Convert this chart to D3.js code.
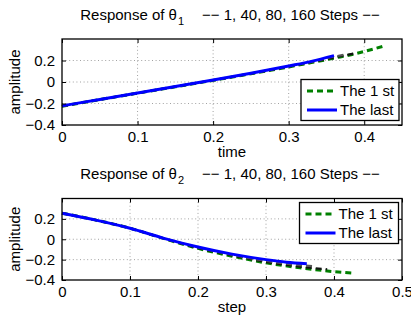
<!DOCTYPE html>
<html><head><meta charset="utf-8">
<script src="https://cdn.jsdelivr.net/npm/d3@7"></script>
<style>body{margin:0;background:#fff}svg{display:block}</style>
</head><body>
<svg id="c" width="411" height="320"></svg>
<script>
// ---- data ----
const yTicks = [-0.4, -0.2, 0, 0.2];
const yTickLabels = ["\u22120.4", "\u22120.2", "0", "0.2"];
const xTicksTop = [0, 0.1, 0.2, 0.3, 0.4];
const xTicksBottom = [0, 0.1, 0.2, 0.3, 0.4, 0.5];
const legendLabels = ["The 1 st", "The last"];

// plot 1 (theta1 vs time)
const t1First = [0, 0.05, 0.1, 0.15, 0.2, 0.25, 0.3, 0.33, 0.36, 0.39, 0.425];
const th1First = [-0.225, -0.164, -0.104, -0.045, 0.015, 0.076, 0.14, 0.18, 0.222, 0.266, 0.332];
const t1Step40 = [0, 0.05, 0.1, 0.15, 0.2, 0.25, 0.3, 0.33, 0.36, 0.39];
const th1Step40 = [-0.225, -0.164, -0.104, -0.044, 0.016, 0.078, 0.143, 0.184, 0.228, 0.27];
const t1Step80 = [0, 0.05, 0.1, 0.15, 0.2, 0.25, 0.3, 0.33, 0.36, 0.375];
const th1Step80 = [-0.225, -0.163, -0.103, -0.043, 0.017, 0.079, 0.146, 0.187, 0.236, 0.255];
const t1Last = [0, 0.05, 0.1, 0.15, 0.2, 0.25, 0.3, 0.33, 0.36];
const th1Last = [-0.222, -0.162, -0.102, -0.042, 0.018, 0.081, 0.149, 0.192, 0.245];

// plot 2 (theta2 vs step)
const t2First = [0, 0.05, 0.1, 0.15, 0.2, 0.25, 0.3, 0.35, 0.4, 0.43];
const th2First = [0.256, 0.188, 0.108, 0.006, -0.09, -0.166, -0.232, -0.28, -0.318, -0.333];
const t2Step40 = [0, 0.05, 0.1, 0.15, 0.2, 0.25, 0.3, 0.34, 0.39];
const th2Step40 = [0.256, 0.188, 0.108, 0.007, -0.085, -0.158, -0.222, -0.262, -0.295];
const t2Step80 = [0, 0.05, 0.1, 0.15, 0.2, 0.25, 0.3, 0.34, 0.37];
const th2Step80 = [0.256, 0.188, 0.108, 0.008, -0.08, -0.152, -0.212, -0.248, -0.265];
const t2Last = [0, 0.05, 0.1, 0.15, 0.2, 0.25, 0.3, 0.33, 0.36];
const th2Last = [0.256, 0.188, 0.108, 0.009, -0.076, -0.146, -0.2, -0.225, -0.24];

const FONT = "'Liberation Sans', Arial, Helvetica, sans-serif";
const FS = 15;
const svg = d3.select("#c");

function panel(cfg) {
  const {x0, x1, y0, y1, xMax, xTicks, xLabel, sub, titleY, series, legend} = cfg;
  const x = d3.scaleLinear().domain([0, xMax]).range([x0, x1]);
  const y = d3.scaleLinear().domain([-0.4, 0.4]).range([y1, y0]);
  const g = svg.append("g");

  // grid
  const gx = xTicks.filter(v => v > 0 && x(v) < x1 - 1);
  g.selectAll(".gx").data(gx).enter().append("line")
    .attr("x1", d => x(d)).attr("x2", d => x(d)).attr("y1", y0).attr("y2", y1)
    .attr("stroke", "#8a8a8a").attr("stroke-width", 0.8).attr("stroke-dasharray", "1,2.6");
  const gy = yTicks.filter(v => v > -0.4);
  g.selectAll(".gy").data(gy).enter().append("line")
    .attr("x1", x0).attr("x2", x1).attr("y1", d => y(d)).attr("y2", d => y(d))
    .attr("stroke", "#8a8a8a").attr("stroke-width", 0.8).attr("stroke-dasharray", "1,2.6");

  // series
  const line = d3.line().x(d => x(d[0])).y(d => y(d[1])).curve(d3.curveMonotoneX);
  series.forEach(s => {
    g.append("path").datum(d3.zip(s.t, s.v)).attr("d", line)
      .attr("fill", "none").attr("stroke", s.color).attr("stroke-width", s.w)
      .attr("stroke-dasharray", s.dash || null);
  });

  // axes
  const styleAxis = a => {
    a.select(".domain").remove();
    a.selectAll("text").attr("font-family", FONT).attr("font-size", FS).attr("fill", "#000");
    a.selectAll("line").attr("stroke", "#000");
  };
  g.append("g").attr("transform", `translate(${x0},0)`)
    .call(d3.axisLeft(y).tickValues(yTicks).tickFormat((d, i) => yTickLabels[i])
      .tickSizeInner(-4).tickSizeOuter(0).tickPadding(7)).call(styleAxis);
  g.append("g").attr("transform", `translate(${x1},0)`)
    .call(d3.axisRight(y).tickValues(yTicks).tickFormat("")
      .tickSizeInner(-4).tickSizeOuter(0)).call(styleAxis);
  g.append("g").attr("transform", `translate(0,${y1})`)
    .call(d3.axisBottom(x).tickValues(xTicks).tickFormat(d3.format("")).tickSizeInner(-4).tickSizeOuter(0).tickPadding(6))
    .call(styleAxis);
  g.append("g").attr("transform", `translate(0,${y0})`)
    .call(d3.axisTop(x).tickValues(xTicks).tickFormat("").tickSizeInner(-4).tickSizeOuter(0))
    .call(styleAxis);

  // frame
  g.append("rect").attr("x", x0).attr("y", y0).attr("width", x1 - x0).attr("height", y1 - y0)
    .attr("fill", "none").attr("stroke", "#000").attr("stroke-width", 1.3);

  // labels
  g.append("text").attr("x", (x0 + x1) / 2).attr("y", y1 + 32).attr("text-anchor", "middle")
    .attr("font-family", FONT).attr("font-size", FS).text(xLabel);
  g.append("text").attr("transform", `translate(20,${(y0 + y1) / 2}) rotate(-90)`)
    .attr("text-anchor", "middle").attr("font-family", FONT).attr("font-size", FS).text("amplitude");

  // title
  const tt = g.append("text").attr("x", 230).attr("y", titleY).attr("text-anchor", "middle")
    .attr("font-family", FONT).attr("font-size", FS).attr("xml:space", "preserve");
  tt.append("tspan").text("Response of \u03b8");
  tt.append("tspan").attr("dy", 5).attr("dx", 1).attr("font-size", 11).text(sub);
  tt.append("tspan").attr("dy", -5).attr("dx", 18).text("\u2212\u2212 1, 40, 80, 160 Steps \u2212\u2212");

  // legend
  const lg = g.append("g");
  lg.append("rect").attr("x", legend.x).attr("y", legend.y).attr("width", legend.w).attr("height", legend.h)
    .attr("fill", "#fff").attr("stroke", "#000").attr("stroke-width", 1.3);
  const ls = [series[0], series[series.length - 1]];
  ls.forEach((s, i) => {
    const cy = legend.y + 11.5 + i * 19;
    lg.append("line").attr("x1", legend.x + 6).attr("x2", legend.x + 36).attr("y1", cy).attr("y2", cy)
      .attr("stroke", s.color).attr("stroke-width", s.w).attr("stroke-dasharray", s.dash || null);
    lg.append("text").attr("x", legend.x + 39).attr("y", cy + 5).attr("font-family", FONT)
      .attr("font-size", FS).text(legendLabels[i]);
  });
}

panel({
  x0: 62, x1: 402, y0: 39, y1: 125, xMax: 0.45, xTicks: xTicksTop, xLabel: "time", sub: "1", titleY: 20,
  series: [
    {t: t1First, v: th1First, color: "#008000", w: 3, dash: "6,4"},
    {t: t1Step40, v: th1Step40, color: "#111", w: 2.2, dash: "6,4"},
    {t: t1Step80, v: th1Step80, color: "#555", w: 2.2, dash: "6,4"},
    {t: t1Last, v: th1Last, color: "#0000ff", w: 3}
  ],
  legend: {x: 301, y: 79.5, w: 98, h: 41}
});

panel({
  x0: 62, x1: 402, y0: 198.5, y1: 280, xMax: 0.5, xTicks: xTicksBottom, xLabel: "step", sub: "2", titleY: 179,
  series: [
    {t: t2First, v: th2First, color: "#008000", w: 3, dash: "6,4"},
    {t: t2Step40, v: th2Step40, color: "#111", w: 2.2, dash: "6,4"},
    {t: t2Step80, v: th2Step80, color: "#555", w: 2.2, dash: "6,4"},
    {t: t2Last, v: th2Last, color: "#0000ff", w: 3}
  ],
  legend: {x: 299.5, y: 202.5, w: 99, h: 41}
});
</script>
</body></html>
